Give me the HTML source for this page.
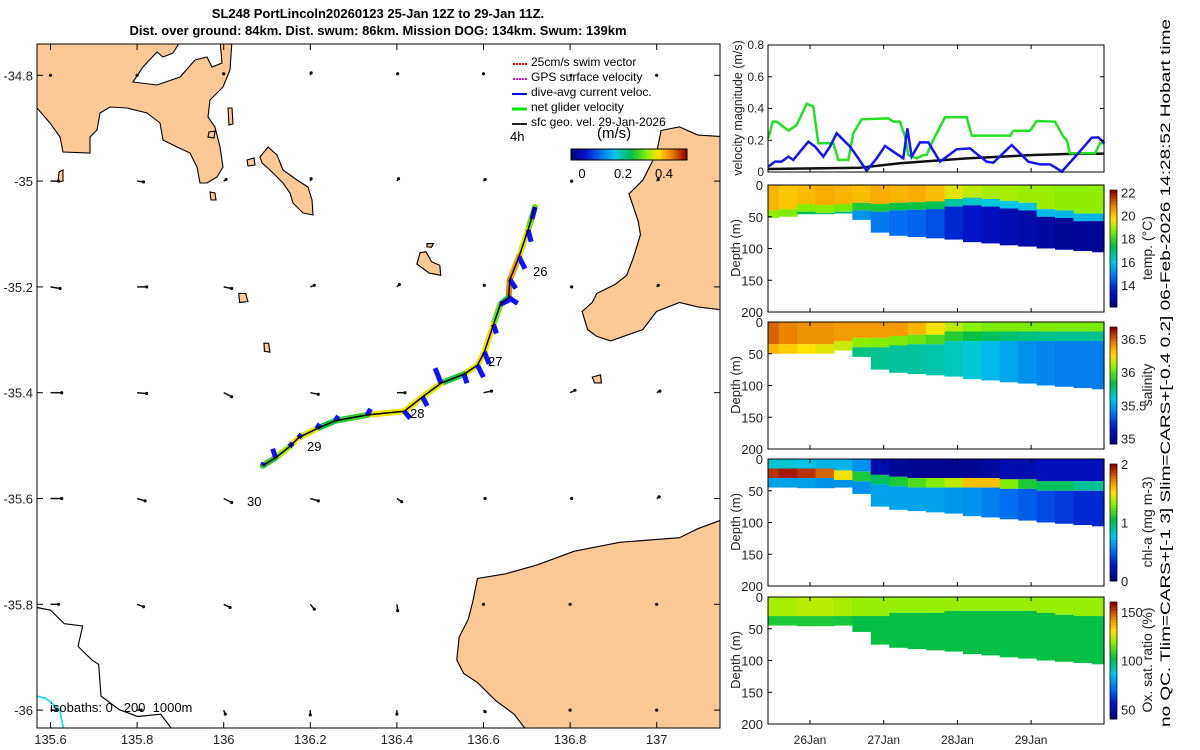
<!DOCTYPE html>
<html><head><meta charset="utf-8"><style>
body{margin:0;background:#fff}
svg{display:block;font-family:"Liberation Sans",sans-serif}
</style></head><body>
<svg id="s" width="1200" height="750" viewBox="0 0 1200 750">
<text x="378" y="18" font-size="13" font-weight="bold" text-anchor="middle">SL248 PortLincoln20260123 25-Jan 12Z to 29-Jan 11Z.</text>
<text x="378" y="35" font-size="13" font-weight="bold" text-anchor="middle">Dist. over ground: 84km. Dist. swum: 86km. Mission DOG: 134km. Swum: 139km</text>
<defs><clipPath id="mapclip"><rect x="37" y="44" width="683" height="684"/></clipPath></defs>
<g id="map" clip-path="url(#mapclip)">
<g fill="#fcc896" stroke="#000" stroke-width="1.1">
<path d="M30,40 L178,40 L178,45 L173,53 L163,57 L157,52 L143,67 L133,82 L157,85 L180,77 L195,60 L207,57 L212,67 L222,63 L220,40 L232,40 L230,70 L223,87 L210,100 L208,117 L215,127 L220,147 L223,167 L217,177 L207,183 L200,183 L197,167 L190,153 L177,147 L163,140 L160,123 L147,113 L127,108 L110,107 L100,113 L97,130 L90,137 L90,153 L63,152 L60,137 L50,123 L30,100Z"/>
<path d="M260,157 L268,147 L277,155 L283,170 L297,180 L308,187 L312,200 L313,215 L303,213 L293,203 L290,193 L283,183 L270,170 L262,163Z"/>
<path d="M59,172 L63,170 L63,181 L58,182Z"/><path d="M228,108 L232,108 L233,124 L229,125Z"/><path d="M209,132 L215,131 L214,138 L208,137Z"/><path d="M247,160 L254,158 L255,165 L248,166Z"/><path d="M210,192 L215,193 L216,200 L211,200Z"/>
</g>
<g transform="translate(0,40) scale(0.4591,0.4525)" fill="#fcc896" stroke="#000" stroke-width="2.5">
<path d="M915,470 L928,468 L940,490 L958,498 L960,520 L935,515 L908,495Z"/><path d="M930,450 L944,450 L940,458 L930,457Z"/>
<path d="M520,560 L535,560 L540,578 L522,580Z"/><path d="M575,670 L585,670 L588,690 L576,688Z"/><path d="M1290,745 L1308,740 L1310,758 L1295,758Z"/>
<path d="M1440,200 L1480,192 L1520,210 L1600,215 L1600,600 L1520,590 L1480,580 L1430,600 L1400,640 L1330,665 L1300,655 L1280,640 L1268,600 L1290,580 L1300,560 L1340,540 L1365,520 L1380,480 L1395,430 L1390,400 L1370,340 L1400,310 L1410,290 L1430,250Z"/>
<path d="M1600,1050 L1520,1080 L1480,1100 L1350,1110 L1250,1130 L1170,1160 L1100,1180 L1040,1190 L1030,1240 L1020,1280 L1000,1320 L995,1370 L1010,1400 L1040,1420 L1080,1460 L1120,1490 L1150,1530 L1600,1530Z"/>
<path fill="none" d="M60,1250 L110,1260 L140,1290 L180,1295 L170,1340 L200,1370 L215,1380 L220,1450 L260,1480 L300,1495 L350,1490 L380,1530"/>
<path fill="none" stroke="#20e0e8" stroke-width="4" d="M60,1445 L100,1455 L130,1480 L140,1530"/>
</g>
<g id="geo"></g><g id="track"></g>
</g>
<rect x="37" y="44" width="683" height="684" fill="none" stroke="#000"/>
<g id="mapaxes" font-size="13" fill="#222"></g>
<text x="533" y="276" font-size="13">26</text>
<text x="488" y="366" font-size="13">27</text>
<text x="410" y="418" font-size="13">28</text>
<text x="307" y="451" font-size="13">29</text>
<text x="247" y="506" font-size="13">30</text>
<text x="50" y="712" font-size="13" xml:space="preserve">isobaths: 0   200  1000m</text>
<g font-size="12">
<line x1="527" y1="64" x2="512" y2="64" stroke="#f00" stroke-width="2" stroke-dasharray="2,1"/><text x="531" y="66">25cm/s swim vector</text>
<line x1="527" y1="79" x2="512" y2="79" stroke="#f0f" stroke-width="2" stroke-dasharray="2,1"/><text x="531" y="81">GPS surface velocity</text>
<line x1="527" y1="94" x2="512" y2="94" stroke="#00f" stroke-width="2"/><text x="531" y="96">dive-avg current veloc.</text>
<line x1="527" y1="109" x2="512" y2="109" stroke="#0e0" stroke-width="3"/><text x="531" y="111">net glider velocity</text>
<line x1="527" y1="124" x2="512" y2="124" stroke="#222" stroke-width="2"/><text x="531" y="126">sfc geo. vel. 29-Jan-2026</text>
<text x="510" y="141" font-size="13">4h</text>
<text x="597" y="138" font-size="15">(m/s)</text>
</g>
<g id="mapcb"></g>
<g id="right"></g>
<text transform="translate(1170,727) rotate(-90)" font-size="13.5" textLength="708" lengthAdjust="spacingAndGlyphs">no QC. Tlim=CARS+[-1 3] Slim=CARS+[-0.4 0.2] 06-Feb-2026 14:28:52 Hobart time</text>
</svg>
<script>
// ---------- map data ----------
const trackLon=[136.719,136.703,136.682,136.661,136.658,136.639,136.623,136.602,136.586,136.555,136.502,136.459,136.417,136.332,136.258,136.215,136.173,136.152,136.120,136.090];
const trackLat=[-35.049,-35.092,-35.143,-35.186,-35.220,-35.233,-35.271,-35.323,-35.348,-35.365,-35.382,-35.408,-35.435,-35.442,-35.453,-35.468,-35.485,-35.502,-35.523,-35.538];
const trackSpeed=[0.3,0.36,0.42,0.44,0.25,0.3,0.37,0.37,0.36,0.26,0.36,0.37,0.37,0.27,0.25,0.36,0.37,0.33,0.26,0.22];
const curU=[-0.05,0.05,0.1,0.1,0.15,0.2,0.05,0.08,0.1,0.05,-0.1,0.08,0.1,0.05,0.05,0.05,0.05,0.05,-0.05,0.02];
const curV=[-0.2,-0.2,-0.2,-0.15,-0.1,0.1,-0.15,-0.2,-0.2,-0.15,0.25,-0.15,-0.12,0.1,0.08,0.08,0.06,0.06,0.15,0.05];
const geoLons=[135.6,135.8,136,136.2,136.4,136.6,136.8,137];
const geoLats=[-34.8,-35,-35.2,-35.4,-35.6,-35.8,-36];
const geoU=[[0,0,0,0.01,0.01,0,0.01,0],[0.1,0.08,0.03,0.01,0.02,0.02,0.02,0.02],[0.12,0.12,0.1,0.05,0.03,0.01,0.02,0.02],[0.14,0.12,0.1,0.1,0.1,0.1,0.06,0.04],[0.14,0.1,0.1,0.1,0.06,0.02,0.02,0.03],[0.1,0.08,0.08,0.05,0.01,0,0,0],[0.08,0.05,0.02,0,0,0.02,0,0]];
const geoV=[[0,0,0.02,0.03,0.02,0.02,0,0],[0,-0.01,0.02,0.03,0.03,0.02,0,0.02],[-0.02,0,-0.02,0.02,0.03,0.02,0,0.02],[0,-0.01,-0.05,-0.02,0,0.02,0.03,0.02],[0,-0.03,-0.05,-0.03,-0.04,0,0,0.02],[0,-0.03,-0.04,-0.06,-0.08,0,0,0],[0,0,-0.05,-0.06,-0.05,-0.02,0,0]];
const lonTicks=[135.6,135.8,136,136.2,136.4,136.6,136.8,137];
const latTicks=[-34.8,-35,-35.2,-35.4,-35.6,-35.8,-36];
const speedTicks=[0,0.2,0.4];
// ---------- velocity panel data ----------
const gDay=[25.434,25.494,25.548,25.706,25.819,25.955,26.045,26.113,26.317,26.385,26.520,26.588,26.701,27.063,27.131,27.221,27.289,27.334,27.447,27.538,27.583,27.673,27.832,28.126,28.194,28.714,28.760,28.986,29.076,29.324,29.437,29.482,29.528,29.867,29.935,29.993];
const gVal=[0.212,0.317,0.317,0.26,0.296,0.429,0.412,0.181,0.181,0.076,0.076,0.244,0.332,0.338,0.317,0.317,0.223,0.107,0.086,0.107,0.107,0.202,0.345,0.345,0.229,0.229,0.26,0.26,0.321,0.317,0.223,0.202,0.118,0.118,0.181,0.181];
const bDay=[25.434,25.524,25.615,25.706,25.774,25.864,25.977,26.068,26.181,26.271,26.362,26.452,26.543,26.656,26.769,26.905,27.018,27.131,27.266,27.321,27.379,27.492,27.605,27.764,27.990,28.171,28.397,28.488,28.737,28.963,29.121,29.257,29.348,29.415,29.619,29.823,29.913,29.993];
const bVal=[0.034,0.065,0.065,0.097,0.076,0.128,0.191,0.160,0.097,0.160,0.244,0.202,0.160,0.086,0.008,0.086,0.164,0.128,0.086,0.275,0.097,0.187,0.187,0.065,0.143,0.149,0.065,0.059,0.170,0.065,0.048,0.048,0.023,0.002,0.107,0.216,0.218,0.181];
const kDay=[25.434,26.678,27.221,28.126,29.032,29.48,29.993];
const kVal=[0.019,0.027,0.055,0.086,0.107,0.113,0.116];
const velTicks=[0,0.2,0.4,0.6,0.8];
const dateTicks=[26,27,28,29];
const dateLabels=["26Jan","27Jan","28Jan","29Jan"];
const depthTicks=[0,50,100,150,200];
// ---------- section data ----------
const secDay=[25.45,25.7,25.95,26.2,26.45,26.7,26.95,27.2,27.45,27.7,27.95,28.2,28.45,28.7,28.95,29.2,29.45,29.7,29.95];
const bottomDepth=[45,45,46,46,45,55,75,80,82,84,86,90,92,95,97,100,102,104,106];
const tempMLD=[40,38,30,32,30,28,30,28,27,26,22,20,22,25,28,38,40,45,45];
const tempSurf=[20.3,20.1,20.2,20.4,20.3,20.2,20.4,20.3,20.4,20.2,19.5,19.2,19.0,19.0,18.9,18.9,18.8,18.8,18.8];
const tempDeep=[17.3,17.2,17.2,17.0,16.9,15.2,14.8,14.6,14.5,14.2,13.6,13.3,13.1,12.9,12.8,12.6,12.5,12.5,12.5];
const salMLD=[35,35,35,35,30,25,25,22,20,20,15,15,15,15,15,15,15,15,15];
const salSurf=[36.5,36.45,36.42,36.42,36.4,36.4,36.4,36.4,36.35,36.25,36.15,36.08,36.05,36.05,36.05,36.05,36.05,36.05,36.05];
const salDeep=[36.2,36.15,36.1,36.0,35.95,35.75,35.72,35.7,35.7,35.68,35.65,35.62,35.55,35.5,35.45,35.42,35.4,35.4,35.4];
const chlTop=[15,15,15,15,18,20,25,28,30,30,30,30,30,32,32,35,35,35,35];
const chlSurf=[0.8,0.8,0.75,0.7,0.7,0.6,0.15,0.08,0.06,0.06,0.06,0.06,0.1,0.15,0.15,0.2,0.2,0.2,0.2];
const chlMax=[1.9,1.95,1.9,1.8,1.5,1.1,1.0,1.1,1.2,1.3,1.4,1.6,1.6,1.3,1.1,1.0,1.0,0.9,0.9];
const chlDeep=[0.65,0.65,0.65,0.6,0.6,0.6,0.65,0.65,0.65,0.65,0.62,0.6,0.55,0.5,0.45,0.4,0.35,0.3,0.3];
const oxMLD=[30,30,30,30,30,30,30,25,25,25,22,22,22,22,22,25,28,30,30];
const oxSurf=[122,122,124,124,122,120,120,120,120,120,120,120,120,120,120,120,120,120,120];
const oxDeep=[106,106,106,106,105,103,103,103,103,103,103,103,103,103,103,103,103,103,103];
const tempTicks=[14,16,18,20,22];
const salTicks=[35,35.5,36,36.5];
const chlTicks=[0,1,2];
const oxTicks=[50,100,150];

const NS='http://www.w3.org/2000/svg';
function mk(tag,attrs,parent){const e=document.createElementNS(NS,tag);for(const k in attrs)e.setAttribute(k,attrs[k]);parent.appendChild(e);return e;}
function clamp(v){return Math.max(0,Math.min(1,v));}
const CMAP=[[0,0,0,130],[0.12,0,20,200],[0.25,0,110,240],[0.38,0,200,230],[0.52,0,190,70],[0.66,140,240,0],[0.76,255,225,0],[0.86,240,140,0],[1,150,0,0]];
function jet(t){t=clamp(t);for(let k=1;k<CMAP.length;k++){if(t<=CMAP[k][0]){const a=CMAP[k-1],b=CMAP[k],f=(t-a[0])/(b[0]-a[0]);return `rgb(${Math.round(a[1]+(b[1]-a[1])*f)},${Math.round(a[2]+(b[2]-a[2])*f)},${Math.round(a[3]+(b[3]-a[3])*f)})`;}}return 'rgb(150,0,0)';}
const X=lon=>223.7+(lon-136)*433.0;
const Y=lat=>75.3+(-34.8-lat)*529;
const VS=80, CS=60;
const SMIN=-0.054, SMAX=0.512;

const geo=document.getElementById('geo');
geoLats.forEach((la,i)=>geoLons.forEach((lo,j)=>{
  const x=X(lo),y=Y(la),x2=x+geoU[i][j]*VS,y2=y-geoV[i][j]*VS;
  const l=mk('line',{x1:x,y1:y,x2:x2,y2:y2,stroke:'#111','stroke-width':1.5},geo);
  
  
  const c=mk('circle',{cx:x2,cy:y2,r:1.6,fill:'#111'},geo);
  
  
}));
const tr=document.getElementById('track');
for(let i=0;i<trackLon.length-1;i++){
  const s=mk('line',{x1:X(trackLon[i]),y1:Y(trackLat[i]),x2:X(trackLon[i+1]),y2:Y(trackLat[i+1]),stroke:jet((trackSpeed[i]-SMIN)/(SMAX-SMIN)),'stroke-width':6,'stroke-linecap':'round'},tr);
  
  
}
for(let i=0;i<trackLon.length;i++){
  const x=X(trackLon[i]),y=Y(trackLat[i]);
  const v=mk('line',{x1:x,y1:y,x2:x+curU[i]*CS,y2:y-curV[i]*CS,stroke:'#1010ff','stroke-width':5},tr);
  
  
}
const tl=mk('polyline',{points:trackLon.map((lo,i)=>X(lo)+','+Y(trackLat[i])).join(' '),fill:'none',stroke:'#000','stroke-width':1.5},tr);



const ma=document.getElementById('mapaxes');
lonTicks.forEach(v=>{const x=X(v);mk('line',{x1:x,y1:728,x2:x,y2:722,stroke:'#000'},ma);mk('line',{x1:x,y1:44,x2:x,y2:50,stroke:'#000'},ma);
  const t=mk('text',{x:x,y:744,'text-anchor':'middle'},ma);t.textContent=v;
  
  });
latTicks.forEach(v=>{const y=Y(v);mk('line',{x1:37,y1:y,x2:43,y2:y,stroke:'#000'},ma);mk('line',{x1:720,y1:y,x2:714,y2:y,stroke:'#000'},ma);
  const t=mk('text',{x:33,y:y+5,'text-anchor':'end'},ma);t.textContent=v;
  
  });
const cb=document.getElementById('mapcb');
for(let k=0;k<58;k++){mk('rect',{x:571+k*2,y:149,width:2.2,height:11,fill:jet(k/57)},cb);}
mk('rect',{x:571,y:149,width:116,height:11,fill:'none',stroke:'#000'},cb);
speedTicks.forEach(v=>{const x=582+v*205;const t=mk('text',{x:x,y:178,'text-anchor':'middle','font-size':13},cb);t.textContent=v;
  
  });

// ---------- right panels ----------
const R=document.getElementById('right');
const PX0=768,PX1=1104;
const DX=d=>810+(d-26)*73.7;
function frame(top,bot,name){const r=mk('rect',{x:PX0,y:top,width:PX1-PX0,height:bot-top,fill:'none',stroke:'#000'},R);
  dateTicks.forEach(d=>{mk('line',{x1:DX(d),y1:bot,x2:DX(d),y2:bot-4,stroke:'#000'},R);mk('line',{x1:DX(d),y1:top,x2:DX(d),y2:top+4,stroke:'#000'},R);});}
const VT=45,VB=172,VY=v=>VB-(v/0.8)*(VB-VT);
function vline(days,vals,col,name){const p=mk('polyline',{points:days.map((d,i)=>DX(d)+','+VY(vals[i])).join(' '),fill:'none',stroke:col,'stroke-width':2.5},R);}
vline(kDay,kVal,'#111','sfc-geo-velocity-line');
vline(gDay,gVal,'#22e022','net-glider-velocity-line');
vline(bDay,bVal,'#1515f0','dive-avg-current-line');
frame(VT,VB,'velocity-panel-frame');
velTicks.forEach(v=>{const y=VY(v);mk('line',{x1:PX0,y1:y,x2:PX0+4,y2:y,stroke:'#000'},R);mk('line',{x1:PX1,y1:y,x2:PX1-4,y2:y,stroke:'#000'},R);
  const t=mk('text',{x:764,y:y+4,'text-anchor':'end','font-size':12,fill:'#222'},R);t.textContent=v;
  
  });
const vl=mk('text',{transform:'translate(742,108) rotate(-90)','text-anchor':'middle','font-size':12.5,fill:'#222'},R);vl.textContent='velocity magnitude (m/s)';



function section(top,layers,cmin,cmax,ticks,label,name){
  const bot=top+127,DY=d=>top+d/200*127;
  const g=mk('g',{},R);
  secDay.forEach((d,i)=>{
    const x0=i==0?PX0:(DX(secDay[i-1])+DX(d))/2, x1=i==secDay.length-1?PX1:(DX(d)+DX(secDay[i+1]))/2;
    layers(i).forEach(L=>{const r=mk('rect',{x:x0,y:DY(L[0]),width:x1-x0+0.6,height:DY(L[1])-DY(L[0]),fill:jet((L[2]-cmin)/(cmax-cmin))},g);
      
      });
  });
  frame(top,bot,name+'-frame');
  depthTicks.forEach(v=>{const y=DY(v);mk('line',{x1:PX0,y1:y,x2:PX0+4,y2:y,stroke:'#000'},R);
    const t=mk('text',{x:763,y:y+5,'text-anchor':'end','font-size':13,fill:'#222'},R);t.textContent=v;
    
    });
  const dl=mk('text',{transform:`translate(740,${top+63}) rotate(-90)`,'text-anchor':'middle','font-size':13,fill:'#222'},R);dl.textContent='Depth (m)';
  
  
  const cy0=top+5,cy1=bot-5,CY=v=>cy1-(v-cmin)/(cmax-cmin)*(cy1-cy0);
  for(let k=0;k<40;k++){mk('rect',{x:1110,y:cy0+(cy1-cy0)*k/40,width:7,height:(cy1-cy0)/40+0.5,fill:jet(1-k/39)},R);}
  mk('rect',{x:1110,y:cy0,width:7,height:cy1-cy0,fill:'none',stroke:'#000','stroke-width':0.7},R);
  ticks.forEach(v=>{const t=mk('text',{x:1121,y:CY(v)+5,'font-size':13,fill:'#222'},R);t.textContent=v;
    
    });
  const cl=mk('text',{transform:`translate(1152,${top+63}) rotate(-90)`,'text-anchor':'middle','font-size':14,fill:'#222'},R);cl.textContent=label;
  
  
}
section(185,i=>[[0,tempMLD[i],tempSurf[i]],[tempMLD[i],tempMLD[i]+12,(tempSurf[i]+tempDeep[i])/2],[tempMLD[i]+12,bottomDepth[i],tempDeep[i]]],12.1,22.2,tempTicks,'temp. (°C)','temperature-section');
section(322,i=>[[0,salMLD[i],salSurf[i]],[salMLD[i],salMLD[i]+15,(salSurf[i]+salDeep[i])/2],[salMLD[i]+15,bottomDepth[i],salDeep[i]]],34.92,36.68,salTicks,'salinity','salinity-section');
section(459,i=>[[0,chlTop[i],chlSurf[i]],[chlTop[i],chlTop[i]+15,chlMax[i]],[chlTop[i]+15,bottomDepth[i],chlDeep[i]]],0,2,chlTicks,'chl-a (mg m-3)','chlorophyll-section');
section(597,i=>[[0,oxMLD[i],oxSurf[i]],[oxMLD[i],bottomDepth[i],oxDeep[i]]],40,160,oxTicks,'Ox. sat. ratio (%)','oxygen-section');
dateTicks.forEach((d,i)=>{const t=mk('text',{x:DX(d),y:744,'text-anchor':'middle','font-size':12,fill:'#222'},R);t.textContent=dateLabels[i];
  
  });
</script>
</body></html>
